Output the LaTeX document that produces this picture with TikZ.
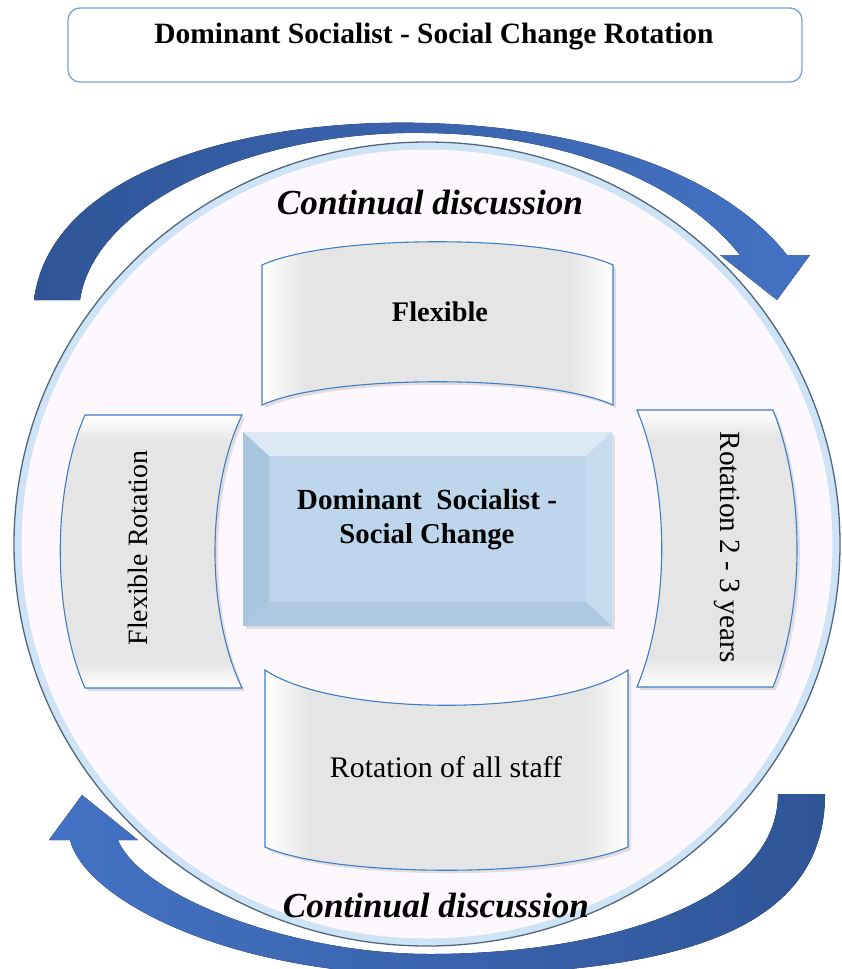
\documentclass[tikz,border=0pt]{standalone}
\usepackage{fontspec}
\setmainfont{Liberation Serif}
\usepackage{graphicx}
\usetikzlibrary{shadows}

\definecolor{edgeblue}{HTML}{3F7DC4}
\definecolor{titleline}{HTML}{7AA3D6}
\definecolor{ringline}{HTML}{50657E}
\definecolor{ringglow}{HTML}{CFE3F6}
\definecolor{ringfill}{HTML}{FDF8FD}
\definecolor{arrowdark}{HTML}{2F5597}
\definecolor{arrowlight}{HTML}{4472C4}
\definecolor{panelgray}{HTML}{E5E5E5}
\definecolor{hubblue}{HTML}{BDD6EC}
\definecolor{hubtop}{HTML}{DCE9F5}
\definecolor{hubleft}{HTML}{A9C6E1}
\definecolor{hubright}{HTML}{C6DBEF}
\definecolor{hubbottom}{HTML}{AEC8E1}

% plateau shadings for the bevelled panels
\pgfdeclarehorizontalshading{panelh}{100bp}{color(0bp)=(white); color(25bp)=(white);
  color(31bp)=(panelgray); color(69bp)=(panelgray); color(75bp)=(white); color(100bp)=(white)}
\pgfdeclareverticalshading{panelv}{100bp}{color(0bp)=(white); color(25bp)=(white);
  color(30bp)=(panelgray); color(70bp)=(panelgray); color(75bp)=(white); color(100bp)=(white)}

\newcommand{\fitto}[2]{\resizebox{#1}{!}{#2}}

\begin{document}
\begin{tikzpicture}[x=1pt,y=-1pt,
  panelshadow/.style={drop shadow={shadow xshift=3pt,shadow yshift=-3pt,opacity=0.22}},
  hpanel/.style={draw=edgeblue, line width=1.1pt, shading=panelh, panelshadow},
  vpanel/.style={draw=edgeblue, line width=1.1pt, shading=panelv, panelshadow},
  label/.style={inner sep=0pt, text=black},
  discussion/.style={inner sep=0pt, text=black, font=\bfseries\itshape}]

\useasboundingbox (0,0) rectangle (841,969);

% heading
\node (titlebox) [draw=titleline, line width=1.3pt, rounded corners=12pt, fill=white,
  minimum width=734pt, minimum height=74pt, inner sep=0pt] at (435,45) {};
\node (title) [label] at (434,37) {\fitto{559pt}{\bfseries Dominant Socialist - Social Change Rotation}};

% outer ring
\fill[ringfill] (427,544) ellipse [x radius=413, y radius=402];
\draw[ringglow, line width=7pt] (427,544) ellipse [x radius=409, y radius=398];
\draw[ringline, line width=1.3pt] (427,544) ellipse [x radius=413, y radius=402];

% upper curved arrow (clockwise)
\fill[left color=arrowdark, right color=arrowlight]
  (34,300) .. controls (50,170) and (250,118) .. (425,123)
  .. controls (580,127) and (720,170) .. (787,255)
  -- (810,255) -- (777,300) -- (720,255) -- (740,255)
  .. controls (680,180) and (560,134) .. (425,133)
  .. controls (260,130) and (95,200) .. (80,300) -- cycle;

% lower curved arrow (clockwise)
\fill[left color=arrowlight, right color=arrowdark]
  (825,794) .. controls (825,930) and (680,975) .. (430,975)
  .. controls (230,975) and (85,900) .. (70,840)
  -- (49,840) -- (82,795) -- (138,840) -- (118,840)
  .. controls (140,895) and (290,954) .. (430,954)
  .. controls (610,954) and (778,900) .. (778,794) -- cycle;

\node (discTop) [discussion] at (430,202) {\fitto{306pt}{Continual discussion}};
\node (discBottom) [discussion] at (436,905) {\fitto{306pt}{Continual discussion}};

% top panel
\path[hpanel] (262,265) .. controls (330,234) and (545,234) .. (613,265)
  -- (613,405) .. controls (545,374) and (330,374) .. (262,405) -- cycle;
\node (flexible) [label] at (440,312) {\fitto{96pt}{\bfseries Flexible}};

% bottom panel
\path[hpanel] (265,670) .. controls (335,717) and (558,717) .. (628,670)
  -- (628,847) .. controls (558,878) and (335,878) .. (265,847) -- cycle;
\node (allstaff) [label] at (446,767) {\fitto{232pt}{Rotation of all staff}};

% left panel
\path[vpanel] (85,415) -- (242,415) .. controls (206,490) and (206,613) .. (242,688)
  -- (85,688) .. controls (52,613) and (52,490) .. (85,415) -- cycle;
\node (flexrot) [label, rotate=90] at (138,548) {\fitto{195pt}{Flexible Rotation}};

% right panel
\path[vpanel] (637,410) -- (773,410) .. controls (805,490) and (805,607) .. (773,687)
  -- (637,687) .. controls (670,607) and (670,490) .. (637,410) -- cycle;
\node (years) [label, rotate=-90] at (727,547) {\fitto{231pt}{Rotation 2 - 3 years}};

% central bevelled block
\fill[hubblue, panelshadow] (243,432) rectangle (612,626);
\fill[hubtop] (243,432) -- (612,432) -- (586,456) -- (269,456) -- cycle;
\fill[hubleft] (243,432) -- (269,456) -- (269,602) -- (243,626) -- cycle;
\fill[hubright] (612,432) -- (612,626) -- (586,602) -- (586,456) -- cycle;
\fill[hubbottom] (243,626) -- (612,626) -- (586,602) -- (269,602) -- cycle;
\node (hubA) [label] at (427,500) {\fitto{260pt}{\bfseries Dominant\ \ Socialist -}};
\node (hubB) [label] at (427,537) {\fitto{175pt}{\bfseries Social Change}};

\end{tikzpicture}
\end{document}
